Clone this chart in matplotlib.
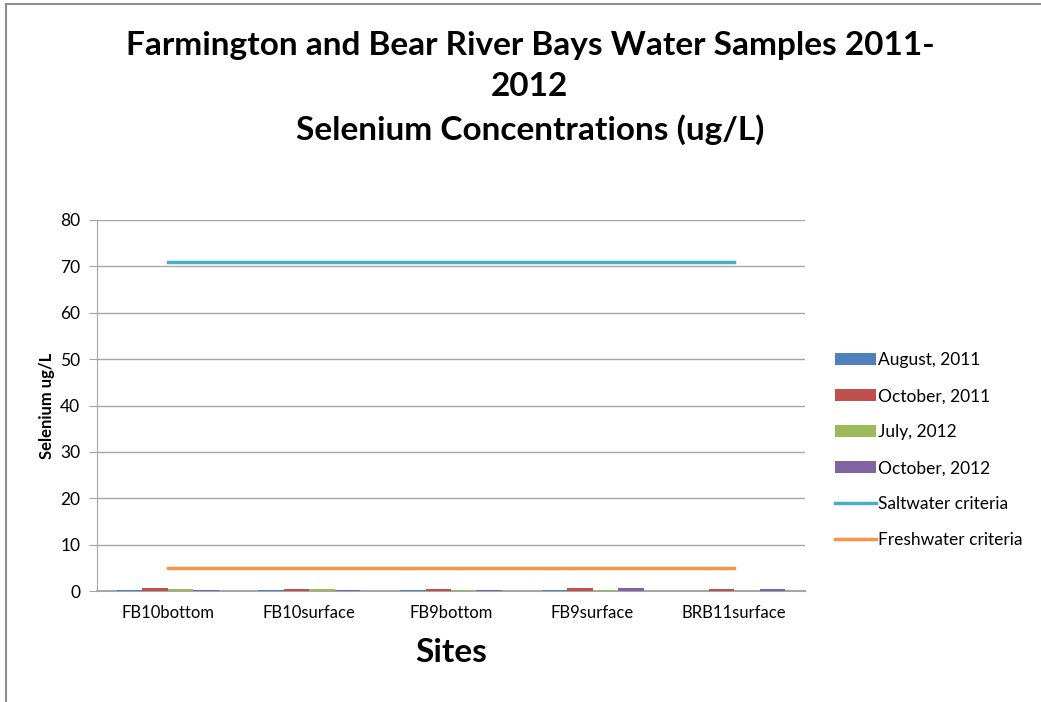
import numpy as np
import matplotlib
matplotlib.use("Agg")
import matplotlib.pyplot as plt
from matplotlib.patches import Rectangle

plt.rcParams["font.family"] = ["Lato", "DejaVu Sans"]

sites = ["FB10bottom", "FB10surface", "FB9bottom", "FB9surface", "BRB11surface"]
series = ["August, 2011", "October, 2011", "July, 2012", "October, 2012"]
aug_2011 = [0.3, 0.3, 0.3, 0.3, 0.0]
oct_2011 = [0.7, 0.5, 0.5, 0.7, 0.35]
jul_2012 = [0.5, 0.5, 0.3, 0.3, 0.0]
oct_2012 = [0.3, 0.3, 0.3, 0.7, 0.5]
saltwater = [71, 71, 71, 71, 71]
freshwater = [5, 5, 5, 5, 5]

BAR_COLORS = ["#4F81BD", "#C0504D", "#9BBB59", "#8064A2"]
SALT_C, FRESH_C = "#4BACC6", "#F79646"

fig = plt.figure(figsize=(10.41, 7.02), dpi=100)
ax = fig.add_axes([97 / 1041, 1 - 591 / 702, 708 / 1041, 371 / 702])

# outer chart frame (only top and left edges fall inside the image)
fig.patches.append(Rectangle((5.5 / 1041, -0.1), 1.2, 1 - 3.5 / 702 + 0.1,
                             transform=fig.transFigure, fill=False,
                             edgecolor="#8c8c8c", lw=1.5))

x = np.arange(len(sites))
w = 0.18
handles = []
for i, (vals, lab) in enumerate(zip([aug_2011, oct_2011, jul_2012, oct_2012], series)):
    h = ax.bar(x + (i - 1.5) * w, vals, width=w, color=BAR_COLORS[i], label=lab, zorder=3)
    handles.append(h)

l1, = ax.plot(x, saltwater, color=SALT_C, lw=2.5, label="Saltwater criteria", zorder=4)
l2, = ax.plot(x, freshwater, color=FRESH_C, lw=2.5, label="Freshwater criteria", zorder=4)
handles += [l1, l2]

ax.set_xlim(-0.5, len(sites) - 0.5)
ax.set_ylim(0, 80)
ax.set_yticks(np.arange(0, 81, 10))
ax.set_xticks(x)
ax.set_xticklabels(sites, fontsize=12)
ax.tick_params(axis="y", labelsize=12.5, length=6, color="#a6a6a6", pad=6)
ax.tick_params(axis="x", length=0, pad=10)
ax.grid(True, axis="y", color="#a6a6a6", lw=1, zorder=0)
for s in ("top", "right"):
    ax.spines[s].set_visible(False)
for s in ("left", "bottom"):
    ax.spines[s].set_color("#a6a6a6")
ax.spines["bottom"].set_linewidth(1.5)

ax.set_ylabel("Selenium ug/L", fontsize=12, fontweight="bold", labelpad=4)
ax.set_xlabel("Sites", fontsize=24, fontweight="bold", labelpad=12)

fig.text(0.509, 1 - 45 / 702, "Farmington and Bear River Bays Water Samples 2011-",
         ha="center", va="center", fontsize=24, fontweight="bold")
fig.text(0.509, 1 - 87 / 702, "2012",
         ha="center", va="center", fontsize=24, fontweight="bold")
fig.text(0.509, 1 - 130 / 702, "Selenium Concentrations (ug/L)",
         ha="center", va="center", fontsize=24, fontweight="bold")

leg = ax.legend(handles=handles, loc="upper left", bbox_to_anchor=(1.02, 0.685),
                frameon=False, fontsize=12.5, handlelength=2.4, handleheight=0.7,
                labelspacing=1.15, handletextpad=0.1)

fig.savefig("out.png", dpi=100)
